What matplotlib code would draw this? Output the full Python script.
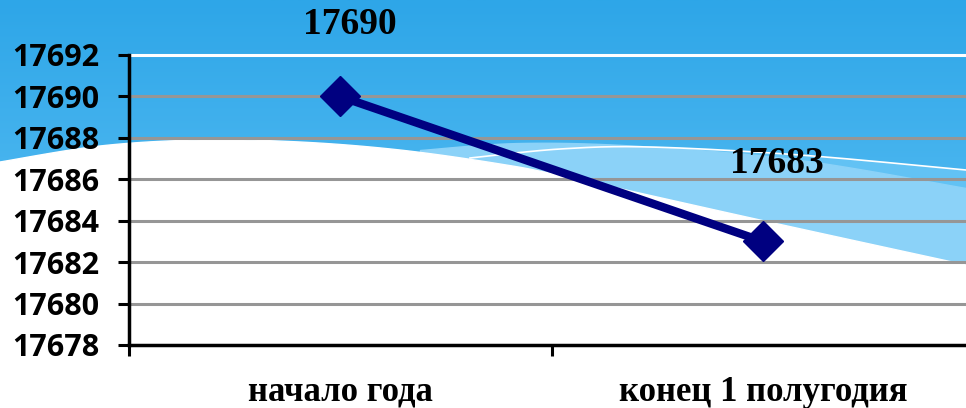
import numpy as np
from matplotlib import pyplot as plt
from matplotlib.colors import LinearSegmentedColormap

# data
categories = ["начало года", "конец 1 полугодия"]
values = [17690, 17683]
labels = ["17690", "17683"]
y_ticks = [17678, 17680, 17682, 17684, 17686, 17688, 17690, 17692]


def smooth(pts, n=200):
    # piecewise cubic through given points (catmull-rom)
    pts = np.asarray(pts, float)
    p = np.vstack([pts[0], pts, pts[-1]])
    out = []
    for i in range(1, len(p) - 2):
        p0, p1, p2, p3 = p[i - 1], p[i], p[i + 1], p[i + 2]
        t = np.linspace(0, 1, n)[:, None]
        seg = 0.5 * ((2 * p1) + (-p0 + p2) * t + (2 * p0 - 5 * p1 + 4 * p2 - p3) * t ** 2
                     + (-p0 + 3 * p1 - 3 * p2 + p3) * t ** 3)
        out.append(seg)
    return np.vstack(out)


fig = plt.figure(figsize=(9.66, 4.08), dpi=100)

# background (slide design), pixel coordinates
bg = fig.add_axes([0, 0, 1, 1], zorder=0)
bg.set_xlim(0, 966)
bg.set_ylim(408, 0)
bg.axis("off")
cmap = LinearSegmentedColormap.from_list("sky", ["#2ea6e8", "#4cb7f0", "#52baf1"])
grad = np.linspace(0, 1, 200)[:, None]
bg.imshow(grad, cmap=cmap, extent=[0, 966, 408, 0], aspect="auto", zorder=0)

band_top = smooth([(420, 150), (520, 143), (640, 146), (800, 160), (966, 188)])
wline = smooth([(470, 158), (560, 149), (650, 147), (800, 155), (966, 170)])
white_edge = smooth([(0, 162), (100, 146), (200, 140), (300, 142), (400, 150),
                     (500, 164), (567, 177), (760, 220), (966, 265)])

# mid-blue area under white thin line on the right
bg.fill_between(wline[:, 0], wline[:, 1], 408, color="#62c2f4", zorder=1)
bg.fill_between(band_top[:, 0], band_top[:, 1], 408, color="#8bd2f8", zorder=2)
bg.plot(wline[:, 0], wline[:, 1], color="white", lw=1.2, zorder=3)
bg.fill_between(white_edge[:, 0], white_edge[:, 1], 408, color="white", zorder=4)

# chart
ax = fig.add_axes([128.5 / 966, 1 - 345 / 408, 846 / 966, 290 / 408], zorder=2)
ax.patch.set_visible(False)
x = np.arange(len(categories)) + 0.5
ax.set_xlim(0, 2)
ax.set_ylim(y_ticks[0], y_ticks[-1])

for yv in y_ticks[1:-1]:
    ax.axhline(yv, color="#969696", lw=2.2, zorder=1)
ax.axhline(y_ticks[-1], color="white", lw=2.2, zorder=1, clip_on=False)

ax.plot(x, values, color="#000080", lw=6, marker="D", markersize=20, zorder=3, clip_on=False)

ax.annotate(labels[0], (x[0], values[0]), xytext=(7, 52), textcoords="offset points",
            ha="center", va="center", fontsize=27, fontweight="bold", family="Liberation Serif")
ax.annotate(labels[1], (x[1], values[1]), xytext=(10, 56), textcoords="offset points",
            ha="center", va="center", fontsize=27, fontweight="bold", family="Liberation Serif")

ax.set_yticks(y_ticks)
ax.set_yticklabels([str(v) for v in y_ticks], fontsize=22, fontweight="bold", family="Open Sans")
ax.set_xticks([0, 1, 2])
ax.set_xticklabels([])
ax.set_xticks(x, minor=True)
ax.set_xticklabels(categories, minor=True, fontsize=25, fontweight="bold", family="Liberation Serif")
ax.tick_params(axis="x", which="minor", length=0, pad=22)
ax.tick_params(axis="x", which="major", length=8, width=2.2, direction="out")
ax.tick_params(axis="y", length=8, width=2.2, direction="out", pad=13)

for s in ["top", "right"]:
    ax.spines[s].set_visible(False)
ax.spines["left"].set_linewidth(2.5)
ax.spines["bottom"].set_linewidth(2.5)

fig.savefig("out.png", dpi=100)
